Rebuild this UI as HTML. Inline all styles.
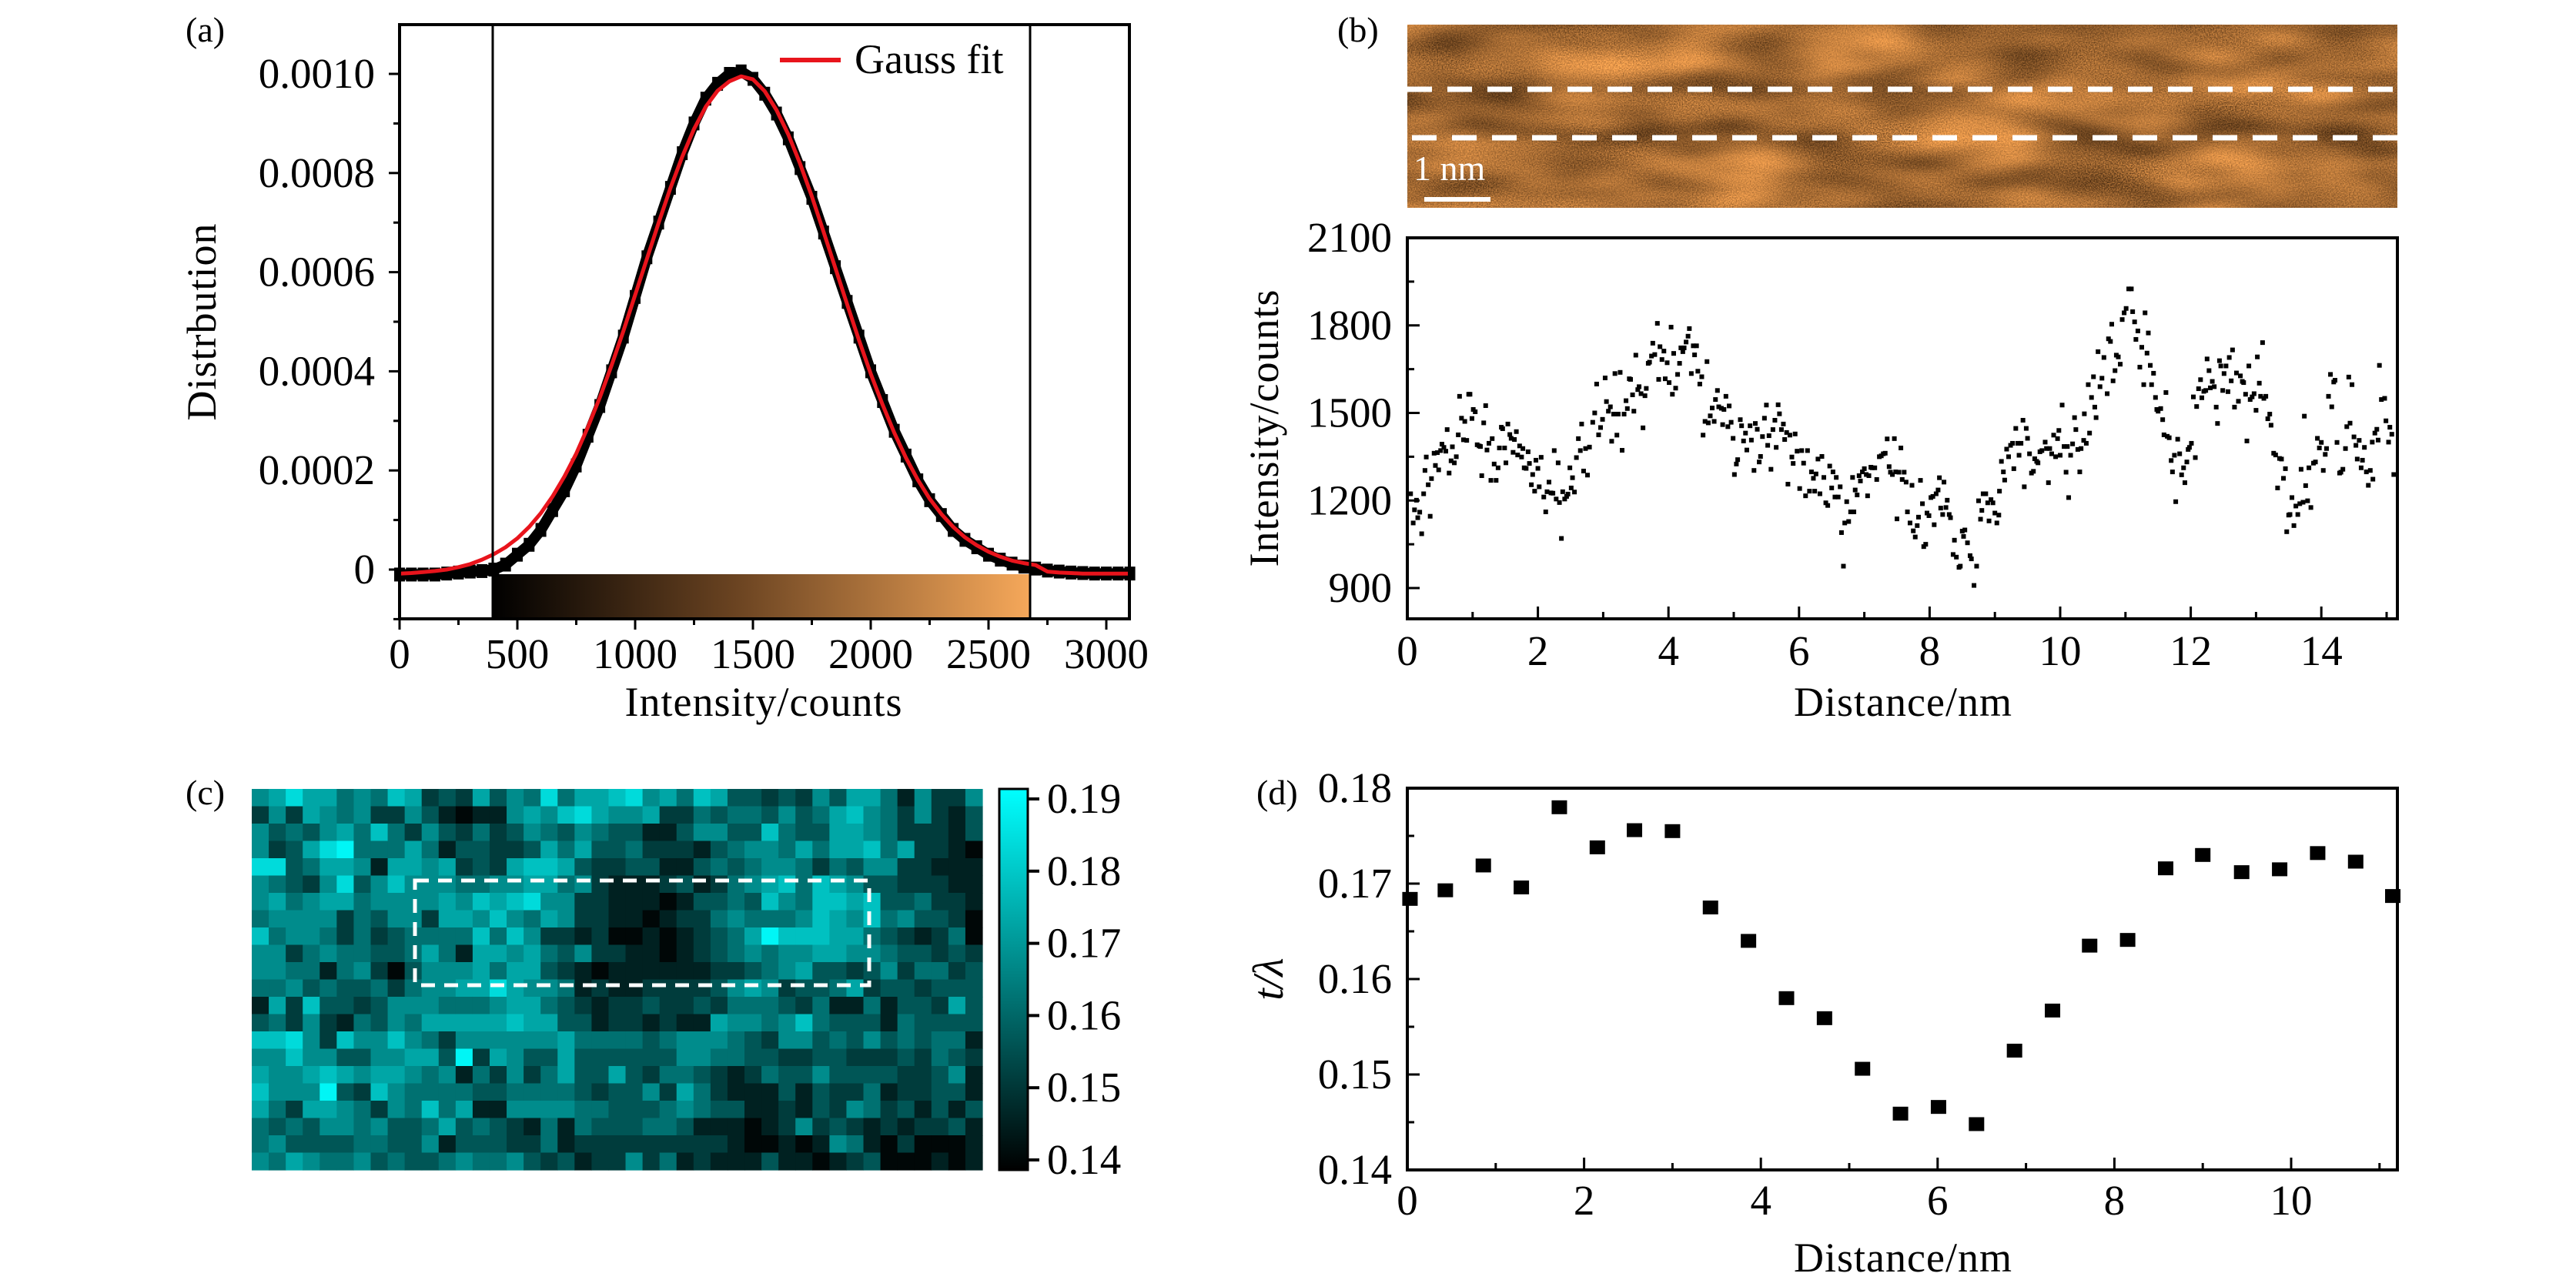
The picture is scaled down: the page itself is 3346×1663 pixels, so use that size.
<!DOCTYPE html>
<html><head><meta charset="utf-8"><style>
html,body{margin:0;padding:0;background:#fff}
svg{display:block}
text{font-family:"Liberation Serif",serif;fill:#000}
.ttl{letter-spacing:1px}
</style></head><body>
<svg id="fig" width="3346" height="1663" viewBox="0 0 3346 1663" xmlns="http://www.w3.org/2000/svg">
<defs>
<linearGradient id="gA" x1="0" x2="1" y1="0" y2="0"><stop offset="0" stop-color="#000"/><stop offset="0.45" stop-color="#6a4321"/><stop offset="1" stop-color="#f6a85a"/></linearGradient>
<linearGradient id="gC" x1="0" x2="0" y1="1" y2="0"><stop offset="0" stop-color="#000"/><stop offset="1" stop-color="#00ffff"/></linearGradient>
<filter id="tex" x="0" y="0" width="100%" height="100%" color-interpolation-filters="sRGB">
<feTurbulence type="fractalNoise" baseFrequency="0.006 0.02" numOctaves="2" seed="3" result="low"/>
<feTurbulence type="fractalNoise" baseFrequency="0.6" numOctaves="1" seed="5" result="hi"/>
<feComposite in="low" in2="hi" operator="arithmetic" k1="0" k2="0.6" k3="0.4" k4="0" result="mix"/>
<feColorMatrix in="mix" type="matrix" values="1.4 0 0 0 -0.05  0.95 0 0 0 -0.055  0.5 0 0 0 -0.05  0 0 0 0 1"/>
</filter>
</defs>
<rect width="3346" height="1663" fill="#fff"/>

<text x="241" y="54" font-size="46">(a)</text>
<text x="1737" y="54" font-size="46">(b)</text>
<text x="241" y="1045" font-size="46">(c)</text>
<text x="1632" y="1045" font-size="46">(d)</text>

<g id="panelA">
<rect x="640" y="746" width="698" height="58" fill="url(#gA)"/>
<g id="aMarks"></g>
<line x1="640" y1="32" x2="640" y2="804" stroke="#000" stroke-width="3"/>
<line x1="1338" y1="32" x2="1338" y2="804" stroke="#000" stroke-width="3"/>
<rect x="519" y="32" width="948" height="772" fill="none" stroke="#000" stroke-width="4"/>
<g id="aAxes"></g>
<line x1="1013" y1="78" x2="1092" y2="78" stroke="#e8141c" stroke-width="6"/>
<text x="1110" y="95" font-size="54">Gauss fit</text>
<text class="ttl" transform="translate(280,418) rotate(-90)" text-anchor="middle" font-size="54">Distrbution</text>
<text class="ttl" x="992" y="930" text-anchor="middle" font-size="54">Intensity/counts</text>
</g>

<g id="panelB">
<rect x="1828" y="32" width="1286" height="238" fill="#a86e38"/>
<rect x="1828" y="32" width="1286" height="238" filter="url(#tex)"/>
<line x1="1828" y1="116" x2="3114" y2="116" stroke="#fff" stroke-width="7" stroke-dasharray="32 20"/>
<line x1="1834" y1="179" x2="3114" y2="179" stroke="#fff" stroke-width="7" stroke-dasharray="32 20"/>
<rect x="1850" y="256" width="86" height="6" fill="#fff"/>
<text x="1836" y="234" font-size="46" style="fill:#fff">1 nm</text>
<g id="bMarks"></g>
<rect x="1828" y="309" width="1286" height="495" fill="none" stroke="#000" stroke-width="4"/>
<g id="bAxes"></g>
<text class="ttl" transform="translate(1660,556) rotate(-90)" text-anchor="middle" font-size="54">Intensity/counts</text>
<text class="ttl" x="2472" y="930" text-anchor="middle" font-size="54">Distance/nm</text>
</g>

<g id="panelC">
<g id="cCells"></g>
<rect x="539" y="1144" width="590" height="136" fill="none" stroke="#fff" stroke-width="5" stroke-dasharray="18 12"/>
<rect x="1298" y="1025" width="37" height="495" fill="url(#gC)" stroke="#000" stroke-width="3"/>
<g id="cAxes"></g>
</g>

<g id="panelD">
<g id="dMarks"></g>
<rect x="1828" y="1024" width="1286" height="496" fill="none" stroke="#000" stroke-width="4"/>
<g id="dAxes"></g>
<text transform="translate(1666,1272) rotate(-90)" text-anchor="middle" font-size="56" font-style="italic">t/λ</text>
<text class="ttl" x="2472" y="1652" text-anchor="middle" font-size="54">Distance/nm</text>
</g>
</svg>
<script>
const histX = [0,50,100,150,200,250,300,350,400,450,500,550,600,650,700,750,800,850,900,950,1000,1050,1100,1150,1200,1250,1300,1350,1400,1450,1500,1550,1600,1650,1700,1750,1800,1850,1900,1950,2000,2050,2100,2150,2200,2250,2300,2350,2400,2450,2500,2550,2600,2650,2700,2750,2800,2850,2900,2950,3000,3050,3100];
const histY = [-0.01,-0.01,-0.01,-0.01,-0.008,-0.006,-0.004,-0.003,0.0,0.01,0.03,0.05,0.08,0.12,0.16,0.21,0.27,0.33,0.40,0.47,0.55,0.63,0.70,0.77,0.84,0.90,0.95,0.98,1.0,1.005,0.99,0.96,0.92,0.87,0.81,0.75,0.68,0.61,0.54,0.47,0.40,0.34,0.28,0.23,0.18,0.14,0.11,0.08,0.06,0.045,0.03,0.02,0.012,0.006,0.002,-0.002,-0.004,-0.006,-0.007,-0.008,-0.008,-0.008,-0.008];
const fitY = [-0.008,-0.007,-0.005,-0.003,0.0,0.005,0.011,0.020,0.031,0.045,0.063,0.086,0.114,0.148,0.188,0.234,0.288,0.347,0.412,0.481,0.554,0.627,0.700,0.770,0.833,0.889,0.934,0.966,0.985,0.995,0.989,0.965,0.927,0.878,0.819,0.753,0.681,0.608,0.535,0.463,0.395,0.333,0.276,0.225,0.181,0.143,0.112,0.086,0.065,0.049,0.036,0.026,0.018,0.013,0.009,-0.004,-0.006,-0.007,-0.008,-0.008,-0.008,-0.008,-0.008];
const aXTicks = [0,500,1000,1500,2000,2500,3000];
const aYTicks = [0,0.2,0.4,0.6,0.8,1.0];
const aYTickLabels = ["0","0.0002","0.0004","0.0006","0.0008","0.0010"];

const profDist = [0.05,0.09,0.11,0.14,0.16,0.19,0.22,0.25,0.27,0.29,0.32,0.35,0.37,0.41,0.43,0.46,0.48,0.51,0.53,0.56,0.59,0.61,0.64,0.67,0.69,0.72,0.75,0.78,0.80,0.83,0.86,0.88,0.91,0.94,0.96,0.99,1.01,1.04,1.07,1.10,1.12,1.14,1.17,1.20,1.22,1.25,1.28,1.30,1.33,1.36,1.39,1.41,1.44,1.46,1.49,1.51,1.54,1.57,1.59,1.62,1.64,1.67,1.69,1.72,1.75,1.77,1.79,1.82,1.85,1.87,1.90,1.92,1.95,1.97,2.00,2.02,2.05,2.09,2.12,2.14,2.17,2.20,2.23,2.25,2.28,2.31,2.33,2.36,2.38,2.41,2.44,2.46,2.49,2.51,2.53,2.56,2.59,2.62,2.65,2.67,2.70,2.73,2.76,2.79,2.84,2.87,2.90,2.93,2.96,2.99,3.03,3.05,3.08,3.11,3.13,3.16,3.18,3.21,3.23,3.26,3.29,3.32,3.35,3.37,3.40,3.42,3.45,3.47,3.50,3.53,3.55,3.58,3.61,3.64,3.66,3.69,3.71,3.74,3.76,3.79,3.83,3.85,3.87,3.90,3.93,3.95,3.98,4.01,4.04,4.06,4.08,4.11,4.14,4.17,4.19,4.22,4.24,4.27,4.30,4.32,4.35,4.38,4.40,4.43,4.45,4.48,4.51,4.53,4.56,4.59,4.61,4.64,4.67,4.70,4.72,4.75,4.77,4.81,4.83,4.85,4.88,4.91,4.93,4.96,4.99,5.01,5.04,5.06,5.10,5.12,5.15,5.18,5.20,5.25,5.27,5.31,5.33,5.36,5.39,5.41,5.44,5.47,5.50,5.52,5.54,5.57,5.60,5.63,5.65,5.68,5.70,5.73,5.76,5.78,5.81,5.83,5.86,5.89,5.91,5.94,5.97,6.01,6.04,6.07,6.10,6.13,6.16,6.19,6.22,6.24,6.26,6.29,6.32,6.35,6.38,6.41,6.44,6.47,6.50,6.52,6.55,6.57,6.60,6.63,6.65,6.68,6.70,6.73,6.76,6.79,6.82,6.84,6.86,6.89,6.92,6.94,6.97,7.00,7.03,7.05,7.07,7.10,7.12,7.16,7.19,7.23,7.26,7.29,7.32,7.35,7.38,7.40,7.43,7.46,7.48,7.50,7.53,7.56,7.58,7.61,7.64,7.66,
7.70,7.73,7.75,7.78,7.81,7.83,7.86,7.89,7.91,7.94,7.96,7.99,8.02,8.05,8.07,8.10,8.13,8.15,8.17,8.20,8.22,8.25,8.27,8.30,8.32,8.36,8.38,8.41,8.45,8.47,8.50,8.52,8.54,8.58,8.62,8.64,8.68,8.72,8.75,8.78,8.80,8.82,8.86,8.89,8.91,8.94,8.97,9.00,9.03,9.06,9.07,9.10,9.13,9.15,9.18,9.21,9.24,9.27,9.29,9.32,9.35,9.37,9.40,9.43,9.45,9.48,9.50,9.53,9.56,9.59,9.61,9.64,9.66,9.69,9.72,9.77,9.79,9.82,9.84,9.87,9.90,9.93,9.96,9.98,10.00,10.03,10.06,10.09,10.11,10.13,10.16,10.19,10.22,10.24,10.27,10.30,10.32,10.36,10.37,10.40,10.43,10.45,10.48,10.51,10.53,10.55,10.58,10.61,10.64,10.67,10.72,10.74,10.77,10.79,10.81,10.84,10.86,10.89,10.92,10.95,10.98,11.01,11.05,11.09,11.11,11.14,11.16,11.19,11.22,11.25,11.28,11.30,11.33,11.35,11.38,11.40,11.43,11.46,11.48,11.50,11.54,11.57,11.59,11.62,11.64,11.67,11.70,11.72,11.75,11.77,11.80,11.83,11.86,11.89,11.91,11.94,11.96,11.98,12.01,12.04,12.07,12.09,12.12,12.15,12.17,12.20,12.23,12.25,12.28,12.30,12.33,12.36,12.39,12.41,12.44,12.46,12.49,12.51,12.54,12.57,12.59,12.62,12.64,12.67,12.70,12.73,12.76,12.79,12.81,12.84,12.86,12.89,12.91,12.94,12.97,13.00,13.02,13.05,13.07,13.10,13.12,13.15,13.18,13.21,13.23,13.27,13.30,13.33,13.36,13.39,13.42,13.45,13.47,13.50,13.52,13.55,13.58,13.61,13.64,13.67,13.69,13.72,13.74,13.76,13.79,13.81,13.84,13.88,13.91,13.94,13.97,14.00,14.03,14.06,14.08,14.11,14.14,14.16,14.19,14.21,14.24,14.28,14.30,14.33,14.37,14.39,14.42,14.44,14.47,14.50,14.53,14.55,14.58,14.61,14.63,14.66,14.69,14.72,14.75,14.78,14.79,14.82,14.85,14.87,14.89,14.92,14.97,14.99,15.03,15.05,15.08,15.11];
const profCounts = [1223,1123,1168,1201,1141,1160,1086,1223,1303,1349,1254,1146,1275,1362,1320,1364,1305,1371,1393,1382,1369,1443,1294,1336,1384,1329,1350,1425,1557,1482,1408,1471,1406,1564,1564,1481,1512,1504,1391,1387,1385,1285,1466,1525,1373,1396,1269,1412,1325,1269,1312,1380,1451,1446,1380,1329,1462,1426,1413,1365,1409,1436,1356,1387,1349,1378,1312,1310,1367,1327,1254,1289,1232,1338,1310,1247,1348,1212,1161,1230,1263,1226,1225,1371,1205,1329,1193,1070,1230,1205,1214,1222,1312,1243,1278,1229,1347,1412,1371,1462,1301,1378,1287,1383,1468,1500,1599,1425,1450,1478,1620,1539,1506,1521,1403,1496,1635,1424,1496,1639,1372,1496,1542,1515,1617,1615,1562,1506,1698,1580,1590,1566,1449,1559,1584,1670,1674,1695,1739,1700,1807,1615,1727,1683,1712,1617,1672,1604,1794,1564,1704,1585,1632,1670,1723,1710,1723,1743,1763,1789,1635,1730,1699,1730,1643,1599,1624,1424,1471,1676,1466,1490,1517,1471,1546,1577,1521,1516,1460,1512,1557,1453,1524,1468,1413,1289,1325,1340,1477,1456,1404,1431,1373,1456,1407,1303,1464,1444,1332,1351,1419,1482,1527,1389,1422,1307,1443,1475,1382,1528,1497,1443,1462,1409,1433,1256,1424,1349,1327,1428,1369,1241,1371,1328,1216,1371,1232,1298,1276,1232,1291,1342,1223,1351,1279,1192,1183,1318,1243,1298,1212,1279,1212,1247,1090,975,1123,1196,1128,1161,1279,1161,1236,1219,1285,1267,1298,1309,1289,1216,1285,1314,1312,1312,1272,1350,1353,1360,1362,1411,1316,1297,1289,1412,1298,1137,1297,1380,1272,1297,1263,1161,
1123,1252,1096,1075,1114,1143,1269,1189,1042,1050,1157,1148,1210,1214,1117,1223,1236,1278,1174,1152,1263,1176,1201,1152,1141,1015,1064,1006,971,975,1095,1077,1099,1055,1011,1000,909,975,1199,1136,1166,1223,1223,1192,1130,1203,1192,1157,1123,1150,1232,1334,1298,1270,1376,1350,1389,1396,1309,1447,1396,1355,1396,1475,1247,1447,1413,1360,1294,1300,1343,1334,1329,1367,1371,1400,1378,1261,1378,1360,1424,1350,1412,1440,1355,1527,1385,1297,1385,1210,1355,1394,1484,1443,1375,1298,1378,1406,1497,1396,1597,1431,1553,1624,1520,1484,1710,1590,1619,1690,1566,1754,1745,1804,1610,1645,1698,1692,1667,1820,1843,1858,1925,1925,1847,1812,1752,1781,1657,1725,1597,1843,1705,1774,1663,1597,1636,1553,1512,1506,1515,1477,1425,1570,1420,1415,1337,1298,1355,1196,1410,1360,1288,1312,1261,1332,1375,1382,1396,1555,1347,1522,1583,1614,1552,1574,1577,1685,1645,1586,1608,1590,1520,1464,1679,1661,1577,1635,1661,1573,1690,1610,1716,1520,1637,1540,1627,1608,1604,1564,1404,1661,1546,1555,1566,1509,1692,1602,1557,1741,1550,1557,1480,1496,1458,1362,1356,1243,1344,1342,1276,1309,1093,1150,1152,1210,1114,1181,1152,1189,1307,1194,1489,1251,1199,1312,1176,1328,1332,1413,1380,1399,1303,1358,1378,1557,1632,1521,1606,1612,1399,1294,1297,1307,1378,1453,1623,1465,1597,1418,1389,1342,1406,1312,1338,1382,1298,1252,1303,1400,1273,1431,1444,1407,1663,1546,1550,1473,1400,1451,1427,1289];
const bXTicks = [0,2,4,6,8,10,12,14];
const bYTicks = [900,1200,1500,1800,2100];

const mapRows = [
"5686645476232635484667856476332325366415225",
"2526545225310115657865562243443534675425213",
"5343564742532423543543311355337433665422213",
"5236894446413322364633422213455464667462210",
"8834665166562326776322331134345542435522111",
"5432583575554455664521112312456747653322211",
"5645664555565767855221110133437547767334221",
"4555524355266575465221101224544457657453320",
"7455424234444747522120010123469777664321240",
"5524544334641665643522110123454556655433232",
"5544145203555646632101111112234563323524423",
"4453433424556686554121122223565233462332333",
"1627332355544456643212232232444324114133263",
"3425214354666667663312212116554574333143333",
"7785275575425555556444434555432553435343441",
"5575533556639265336333333554433223322232432",
"6556765665451425246336324432124335333322351",
"7555932754444334444323352642111313224122331",
"6426654254746115555443334543311213254231313",
"4343554533463432141433344311101252321212231",
"4533334433513332241222222222100101541020001",
"5465445343345445323122524121113110123000101"];
const mapMin = 0.14, mapStep = 0.0055;
const cbarTicks = [0.14,0.15,0.16,0.17,0.18,0.19];

const thickDist = [0.03,0.43,0.86,1.29,1.72,2.15,2.57,3.00,3.43,3.86,4.29,4.72,5.15,5.58,6.01,6.44,6.87,7.30,7.72,8.15,8.58,9.00,9.44,9.87,10.30,10.73,11.15];
const thickVal = [0.1684,0.1693,0.1719,0.1696,0.1780,0.1738,0.1756,0.1755,0.1675,0.1640,0.1580,0.1559,0.1506,0.1459,0.1466,0.1448,0.1525,0.1567,0.1635,0.1641,0.1716,0.1730,0.1712,0.1715,0.1732,0.1723,0.1687];
const dXTicks = [0,2,4,6,8,10];
const dYTicks = [0.14,0.15,0.16,0.17,0.18];

const NS = "http://www.w3.org/2000/svg";
function mk(tag, parent, attrs){ const e=document.createElementNS(NS,tag); for(const k in attrs) e.setAttribute(k,attrs[k]); parent.appendChild(e); return e; }
const FS = 55;

const xA = v => 519 + v*(918/3000);
const yA = v => 740 - v*644;
const xB = v => 1828 + v*84.8;
const yB = v => 764 - (v-900)*455/1200;
const xD = v => 1828 + v*114.8;
const yD = v => 1520 - (v-0.14)*12400;
const yCb = v => 1038 + (0.19-v)*9380;

const aM = document.getElementById('aMarks');
let pts = histX.map((x,i)=>xA(x).toFixed(1)+','+yA(histY[i]).toFixed(1)).join(' ');
const dataLine = mk('polyline', aM, {points:pts, fill:'none', stroke:'#000', 'stroke-width':14, 'stroke-linejoin':'round'});


histX.forEach((x,i)=>{ const r=mk('rect',aM,{x:xA(x)-7,y:yA(histY[i])-9,width:14,height:18,fill:'#000'});
  
   });
pts = histX.map((x,i)=>xA(x).toFixed(1)+','+yA(fitY[i]).toFixed(1)).join(' ');
const fitLine = mk('polyline', aM, {points:pts, fill:'none', stroke:'#e8141c', 'stroke-width':5, 'stroke-linejoin':'round'});



const aAx = document.getElementById('aAxes');
aXTicks.forEach(t=>{ mk('line',aAx,{x1:xA(t),y1:804,x2:xA(t),y2:818,stroke:'#000','stroke-width':3});
  const tx=mk('text',aAx,{x:xA(t),y:868,'text-anchor':'middle','font-size':FS}); tx.textContent=t;
  
   });
for(let t=250;t<3100;t+=500) mk('line',aAx,{x1:xA(t),y1:804,x2:xA(t),y2:812,stroke:'#000','stroke-width':3});
aYTicks.forEach((t,i)=>{ mk('line',aAx,{x1:505,y1:yA(t),x2:519,y2:yA(t),stroke:'#000','stroke-width':3});
  const tx=mk('text',aAx,{x:487,y:yA(t)+18,'text-anchor':'end','font-size':FS}); tx.textContent=aYTickLabels[i];
  
   });
[-0.1,0.1,0.3,0.5,0.7,0.9].forEach(t=>mk('line',aAx,{x1:511,y1:yA(t),x2:519,y2:yA(t),stroke:'#000','stroke-width':3}));

const bM = document.getElementById('bMarks');
profDist.forEach((d,i)=>{ const r=mk('rect',bM,{x:xB(d)-3,y:yB(profCounts[i])-3,width:6,height:6,fill:'#000'});
  
   });
const bAx = document.getElementById('bAxes');
bXTicks.forEach(t=>{ mk('line',bAx,{x1:xB(t),y1:804,x2:xB(t),y2:788,stroke:'#000','stroke-width':3});
  const tx=mk('text',bAx,{x:xB(t),y:864,'text-anchor':'middle','font-size':FS}); tx.textContent=t;
  
   });
for(let t=1;t<=15;t+=2) mk('line',bAx,{x1:xB(t),y1:804,x2:xB(t),y2:795,stroke:'#000','stroke-width':3});
bYTicks.forEach(t=>{ mk('line',bAx,{x1:1828,y1:yB(t),x2:1844,y2:yB(t),stroke:'#000','stroke-width':3});
  const tx=mk('text',bAx,{x:1808,y:yB(t)+18,'text-anchor':'end','font-size':FS}); tx.textContent=t;
  
   });
[1050,1350,1650,1950].forEach(t=>mk('line',bAx,{x1:1828,y1:yB(t),x2:1837,y2:yB(t),stroke:'#000','stroke-width':3}));

const cG = document.getElementById('cCells');
const nR = mapRows.length, nC = mapRows[0].length;
const cw = (1276-327)/nC, ch = (1520-1025)/nR;
mapRows.forEach((row,i)=>{ for(let j=0;j<nC;j++){ const v = mapMin + (+row[j])*mapStep;
  const t = Math.max(0,Math.min(1,(v-0.1386)/(0.1914-0.1386)));
  const c = Math.round(255*t);
  const r = mk('rect',cG,{x:(327+j*cw).toFixed(2),y:(1025+i*ch).toFixed(2),width:(cw+0.6).toFixed(2),height:(ch+0.6).toFixed(2),fill:`rgb(0,${c},${c})`});
  
   } });
const cAx = document.getElementById('cAxes');
cbarTicks.forEach(t=>{ mk('line',cAx,{x1:1335,y1:yCb(t),x2:1350,y2:yCb(t),stroke:'#000','stroke-width':4});
  const tx=mk('text',cAx,{x:1360,y:yCb(t)+18,'font-size':FS}); tx.textContent=t.toFixed(2);
  
   });

const dM = document.getElementById('dMarks');
thickDist.forEach((d,i)=>{ const r=mk('rect',dM,{x:xD(d)-10,y:yD(thickVal[i])-9,width:20,height:18,fill:'#000'});
  
   });
const dAx = document.getElementById('dAxes');
dXTicks.forEach(t=>{ mk('line',dAx,{x1:xD(t),y1:1520,x2:xD(t),y2:1504,stroke:'#000','stroke-width':3});
  const tx=mk('text',dAx,{x:xD(t),y:1578,'text-anchor':'middle','font-size':FS}); tx.textContent=t;
  
   });
for(let t=1;t<=11;t+=2) mk('line',dAx,{x1:xD(t),y1:1520,x2:xD(t),y2:1511,stroke:'#000','stroke-width':3});
dYTicks.forEach(t=>{ mk('line',dAx,{x1:1828,y1:yD(t),x2:1844,y2:yD(t),stroke:'#000','stroke-width':3});
  const tx=mk('text',dAx,{x:1808,y:yD(t)+18,'text-anchor':'end','font-size':FS}); tx.textContent=t.toFixed(2);
  
   });
[0.145,0.155,0.165,0.175].forEach(t=>mk('line',dAx,{x1:1828,y1:yD(t),x2:1837,y2:yD(t),stroke:'#000','stroke-width':3}));
</script>
</body></html>
